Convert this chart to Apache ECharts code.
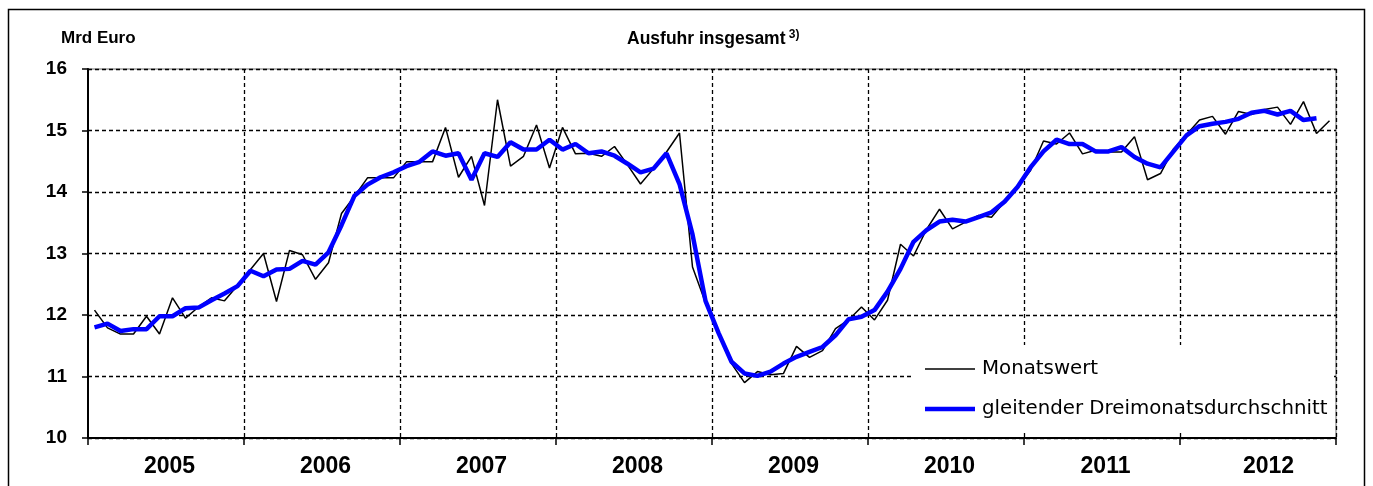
<!DOCTYPE html>
<html><head><meta charset="utf-8">
<script src="https://cdn.jsdelivr.net/npm/echarts@6/dist/echarts.min.js"></script>
<style>html,body{margin:0;padding:0;background:#fff}#c{width:1373px;height:486px}</style>
</head><body><div id="c"></div>
<script>
const years = ['2005', '2006', '2007', '2008', '2009', '2010', '2011', '2012'];
const months = [];
years.forEach(y => { for (let m = 1; m <= 12; m++) months.push(y + '-' + (m < 10 ? '0' + m : m)); });

// Monatswert (Mrd Euro)
const monthly = [
  12.08, 11.79, 11.69, 11.69, 11.98, 11.69, 12.28, 11.95, 12.13, 12.28, 12.23, 12.48,
  12.74, 13.00, 12.22, 13.05, 12.98, 12.58, 12.85, 13.65, 13.93, 14.23, 14.23, 14.23,
  14.49, 14.49, 14.49, 15.05, 14.24, 14.58, 13.78, 15.50, 14.42, 14.58, 15.09, 14.39,
  15.05, 14.62, 14.63, 14.58, 14.74, 14.44, 14.13, 14.38, 14.65, 14.96, 12.78, 12.20,
  11.72, 11.21, 10.90, 11.08, 11.03, 11.05, 11.49, 11.31, 11.42, 11.78, 11.92, 12.13,
  11.92, 12.24, 13.15, 12.96, 13.39, 13.72, 13.40, 13.51, 13.62, 13.59, 13.84, 14.08,
  14.35, 14.83, 14.78, 14.96, 14.62, 14.68, 14.65, 14.65, 14.90, 14.20, 14.30, 14.70,
  14.93, 15.17, 15.23, 14.94, 15.31, 15.26, 15.34, 15.38, 15.10, 15.47, 14.95, 15.16
];

// gleitender Dreimonatsdurchschnitt (Mrd Euro)
const average = [
  11.80, 11.86, 11.74, 11.77, 11.77, 11.98, 11.98, 12.11, 12.12, 12.24, 12.35, 12.47,
  12.72, 12.63, 12.74, 12.75, 12.88, 12.82, 13.02, 13.46, 13.94, 14.12, 14.24, 14.32,
  14.42, 14.49, 14.66, 14.59, 14.63, 14.20, 14.63, 14.57, 14.81, 14.69, 14.69, 14.85,
  14.69, 14.78, 14.63, 14.66, 14.59, 14.46, 14.32, 14.38, 14.63, 14.13, 13.31, 12.23,
  11.71, 11.24, 11.05, 11.01, 11.08, 11.21, 11.32, 11.40, 11.48, 11.67, 11.93, 11.97,
  12.08, 12.38, 12.75, 13.19, 13.38, 13.52, 13.55, 13.52, 13.59, 13.67, 13.84, 14.08,
  14.40, 14.66, 14.85, 14.78, 14.78, 14.66, 14.66, 14.73, 14.57, 14.46, 14.40, 14.66,
  14.92, 15.07, 15.11, 15.14, 15.19, 15.29, 15.32, 15.26, 15.32, 15.17, 15.20, null
];

const chart = echarts.init(document.getElementById('c'), null, { renderer: 'canvas' });
const dash = [4, 3];
const bold = 'Liberation Sans';
chart.setOption({
  animation: false,
  backgroundColor: '#fff',
  grid: { left: 88, right: 37, top: 69, bottom: 48, show: true, borderColor: '#999', borderWidth: 1.5, backgroundColor: 'transparent' },
  xAxis: [{
    type: 'category', data: months, boundaryGap: true, position: 'bottom',
    axisLine: { show: true, lineStyle: { color: '#000', width: 2 } },
    axisTick: { show: true, interval: (i) => i % 12 === 0, length: 7, lineStyle: { color: '#000', width: 1.5 } },
    axisLabel: { show: false },
    splitLine: { show: true, interval: (i) => i % 12 === 0 && i > 0, lineStyle: { color: '#000', width: 1.3, type: dash } }
  }, {
    type: 'category', data: years, boundaryGap: true, position: 'bottom',
    axisLine: { show: false }, axisTick: { show: false }, splitLine: { show: false },
    axisLabel: {
      show: true, margin: 17,
      formatter: (v) => v === '2012' ? '{s|' + v + '}' : '{n|' + v + '}',
      rich: {
        n: { color: '#000', fontSize: 23, fontWeight: 'bold', fontFamily: bold, padding: [0, 0, 0, 7] },
        s: { color: '#000', fontSize: 23, fontWeight: 'bold', fontFamily: bold, padding: [0, 0, 0, 21] }
      }
    }
  }],
  yAxis: {
    type: 'value', min: 10, max: 16, interval: 1,
    axisLine: { show: true, lineStyle: { color: '#000', width: 2 } },
    axisTick: { show: true, length: 6, lineStyle: { color: '#000', width: 1.5 } },
    axisLabel: { color: '#000', fontSize: 19, fontWeight: 'bold', fontFamily: bold, margin: 21 },
    splitLine: { show: true, lineStyle: { color: '#000', width: 1.3, type: dash } }
  },
  legend: {
    orient: 'vertical', left: 913, top: 345, padding: [14, 6, 12, 12],
    itemWidth: 50, itemHeight: 14, itemGap: 20, backgroundColor: '#fff',
    symbolKeepAspect: true,
    textStyle: { fontSize: 19.8, fontFamily: 'DejaVu Sans', color: '#000', padding: [0, 0, 0, 2] },
    data: [
      { name: 'Monatswert', icon: 'path://M0,0H48V1.6H0Z' },
      { name: 'gleitender Dreimonatsdurchschnitt', icon: 'path://M0,0H52V4.6H0Z' }
    ]
  },
  series: [{
    name: 'Monatswert', type: 'line', data: monthly, symbol: 'none', showSymbol: false,
    lineStyle: { color: '#000', width: 1.5 }, itemStyle: { color: '#000' }, z: 3
  }, {
    name: 'gleitender Dreimonatsdurchschnitt', type: 'line', data: average, symbol: 'none', showSymbol: false,
    lineStyle: { color: '#0000ff', width: 4.5 }, itemStyle: { color: '#0000ff' }, z: 4
  }],
  graphic: [
    { type: 'rect', shape: { x: 8.5, y: 9.5, width: 1356, height: 520 }, style: { fill: 'none', stroke: '#000', lineWidth: 1.5 }, silent: true },
    { type: 'text', left: 61, top: 30, style: { text: 'Mrd Euro', font: 'bold 17px "Liberation Sans"', fill: '#000' } },
    { type: 'text', left: 627, top: 29, style: {
        text: '{a|Ausfuhr insgesamt} {b|3)}',
        rich: { a: { font: 'bold 17.5px "Liberation Sans"', fill: '#000', verticalAlign: 'bottom' },
                b: { font: 'bold 12px "Liberation Sans"', fill: '#000', verticalAlign: 'top', padding: [0, 0, 7, 0] } } } }
  ]
});
</script></body></html>
